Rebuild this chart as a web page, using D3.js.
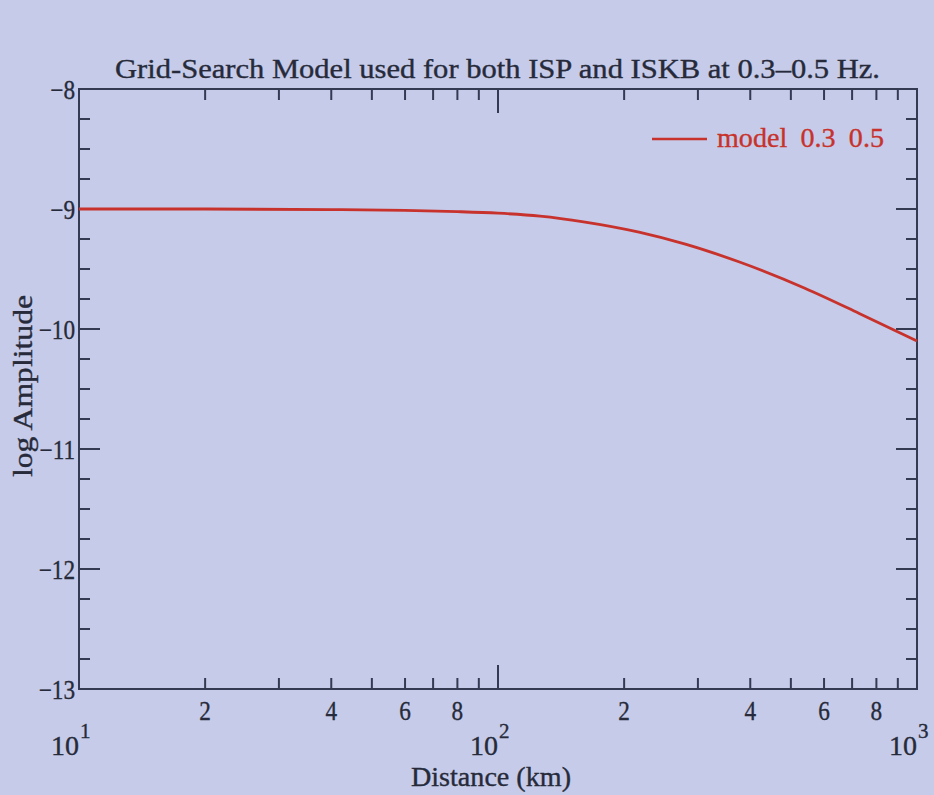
<!DOCTYPE html>
<html>
<head>
<meta charset="utf-8">
<script src="https://cdn.jsdelivr.net/npm/d3@7"></script>
<style>
  html, body { margin: 0; padding: 0; background: #c5cbe8; }
  svg { display: block; }
  text { font-family: "Liberation Serif", "Times New Roman", serif; fill: #262a3a; stroke: #262a3a; stroke-width: 0.35; }
</style>
</head>
<body>
<svg id="chart" width="934" height="795"></svg>
<script>
// Model curve: log amplitude vs epicentral distance (km)
const distance = [10, 20, 40, 60, 80, 100, 126, 160, 217, 280, 377, 540, 728, 1000];
const logAmp   = [-9.00, -9.00, -9.005, -9.012, -9.022, -9.035, -9.06, -9.107, -9.193, -9.293, -9.442, -9.66, -9.87, -10.10];

const seriesName = "model 0.3 0.5";
const titleText = "Grid-Search Model used for both ISP and ISKB at 0.3\u20130.5 Hz.";
const xLabel = "Distance (km)";
const yLabel = "log Amplitude";

const yMajor = [-8, -9, -10, -11, -12, -13];
const yMinorStep = 0.25;
const xDecades = [10, 100, 1000];
const xDecadeExp = ["1", "2", "3"];
const xMinorLabelled = [2, 4, 6, 8];

const svg = d3.select("#chart");
const axisColor = "#343a52";
const lineColor = "#c8322c";

const x = d3.scaleLog().domain([10, 1000]).range([79, 917]);
const y = d3.scaleLinear().domain([-13, -8]).range([689, 89]);

const [x0, x1] = x.range();
const [y0, y1] = y.range(); // y0 bottom, y1 top

// Narrow, tall lettering: shrink each label's advance width
function condense(sel, factor) {
  sel.each(function () {
    const w = this.getComputedTextLength();
    d3.select(this).attr("textLength", w * factor).attr("lengthAdjust", "spacingAndGlyphs");
  });
  return sel;
}

// Frame
svg.append("rect")
  .attr("x", x0).attr("y", y1)
  .attr("width", x1 - x0).attr("height", y0 - y1)
  .attr("fill", "none").attr("stroke", axisColor).attr("stroke-width", 2);

// Y ticks (left and right, pointing inward)
const yMinor = d3.range(-13, -8 + 1e-9, yMinorStep).filter(v => Math.abs(v - Math.round(v)) > 1e-6);
const yTickG = svg.append("g").attr("stroke", axisColor).attr("stroke-width", 2);
yMajor.forEach(v => {
  yTickG.append("line").attr("x1", x0).attr("x2", x0 + 21).attr("y1", y(v)).attr("y2", y(v));
  yTickG.append("line").attr("x1", x1).attr("x2", x1 - 21).attr("y1", y(v)).attr("y2", y(v));
});
yMinor.forEach(v => {
  yTickG.append("line").attr("x1", x0).attr("x2", x0 + 11).attr("y1", y(v)).attr("y2", y(v));
  yTickG.append("line").attr("x1", x1).attr("x2", x1 - 11).attr("y1", y(v)).attr("y2", y(v));
});

condense(svg.append("g").selectAll("text").data(yMajor).join("text")
  .attr("x", x0 - 4).attr("y", d => y(d) + 10)
  .attr("text-anchor", "end")
  .attr("font-size", 27)
  .text(d => "\u2212" + Math.abs(d)), 0.86);

// X ticks (bottom and top, pointing inward)
const xTicks = x.ticks();
const xTickG = svg.append("g").attr("stroke", axisColor).attr("stroke-width", 2);
xTicks.forEach(v => {
  if (v === 10 || v === 1000) return;
  const major = xDecades.includes(v);
  const len = major ? 24 : 11;
  xTickG.append("line").attr("x1", x(v)).attr("x2", x(v)).attr("y1", y0).attr("y2", y0 - len);
  xTickG.append("line").attr("x1", x(v)).attr("x2", x(v)).attr("y1", y1).attr("y2", y1 + len);
});

// Minor labels 2,4,6,8 within each decade
const minorLabels = [];
[10, 100].forEach(dec => xMinorLabelled.forEach(m => minorLabels.push({v: dec * m, t: String(m)})));
condense(svg.append("g").selectAll("text").data(minorLabels).join("text")
  .attr("x", d => x(d.v)).attr("y", y0 + 31)
  .attr("text-anchor", "middle")
  .attr("font-size", 27)
  .text(d => d.t), 0.86);

// Decade labels 10^n, written as one text with a raised exponent
const decG = svg.append("g");
xDecades.forEach((v, i) => {
  const t = decG.append("text")
    .attr("x", x(v) - 28).attr("y", y0 + 66)
    .attr("font-size", 28);
  t.append("tspan").text("10");
  t.append("tspan").attr("dx", 1).attr("dy", -17).attr("font-size", 21).text(xDecadeExp[i]);
});

// Model curve
const line = d3.line()
  .x((d, i) => x(distance[i]))
  .y(d => y(d))
  .curve(d3.curveMonotoneX);
svg.append("path")
  .datum(logAmp)
  .attr("d", line)
  .attr("fill", "none")
  .attr("stroke", lineColor)
  .attr("stroke-width", 2.8);

// Legend
svg.append("line")
  .attr("x1", 652).attr("x2", 707).attr("y1", 139).attr("y2", 139)
  .attr("stroke", lineColor).attr("stroke-width", 2.6);
svg.append("text")
  .attr("x", 717).attr("y", 147)
  .attr("font-size", 27)
  .attr("textLength", 167).attr("lengthAdjust", "spacingAndGlyphs")
  .style("fill", lineColor).style("stroke", lineColor)
  .style("word-spacing", "6px")
  .text(seriesName);

// Title
svg.append("text")
  .attr("x", 115).attr("y", 78)
  .attr("font-size", 27)
  .attr("textLength", 765).attr("lengthAdjust", "spacingAndGlyphs")
  .text(titleText);

// Axis labels
svg.append("text")
  .attr("x", 491).attr("y", 786)
  .attr("text-anchor", "middle")
  .attr("font-size", 27)
  .attr("textLength", 160).attr("lengthAdjust", "spacingAndGlyphs")
  .text(xLabel);

svg.append("text")
  .attr("transform", "translate(32,386) rotate(-90)")
  .attr("text-anchor", "middle")
  .attr("font-size", 27)
  .attr("textLength", 182).attr("lengthAdjust", "spacingAndGlyphs")
  .text(yLabel);
</script>
</body>
</html>
